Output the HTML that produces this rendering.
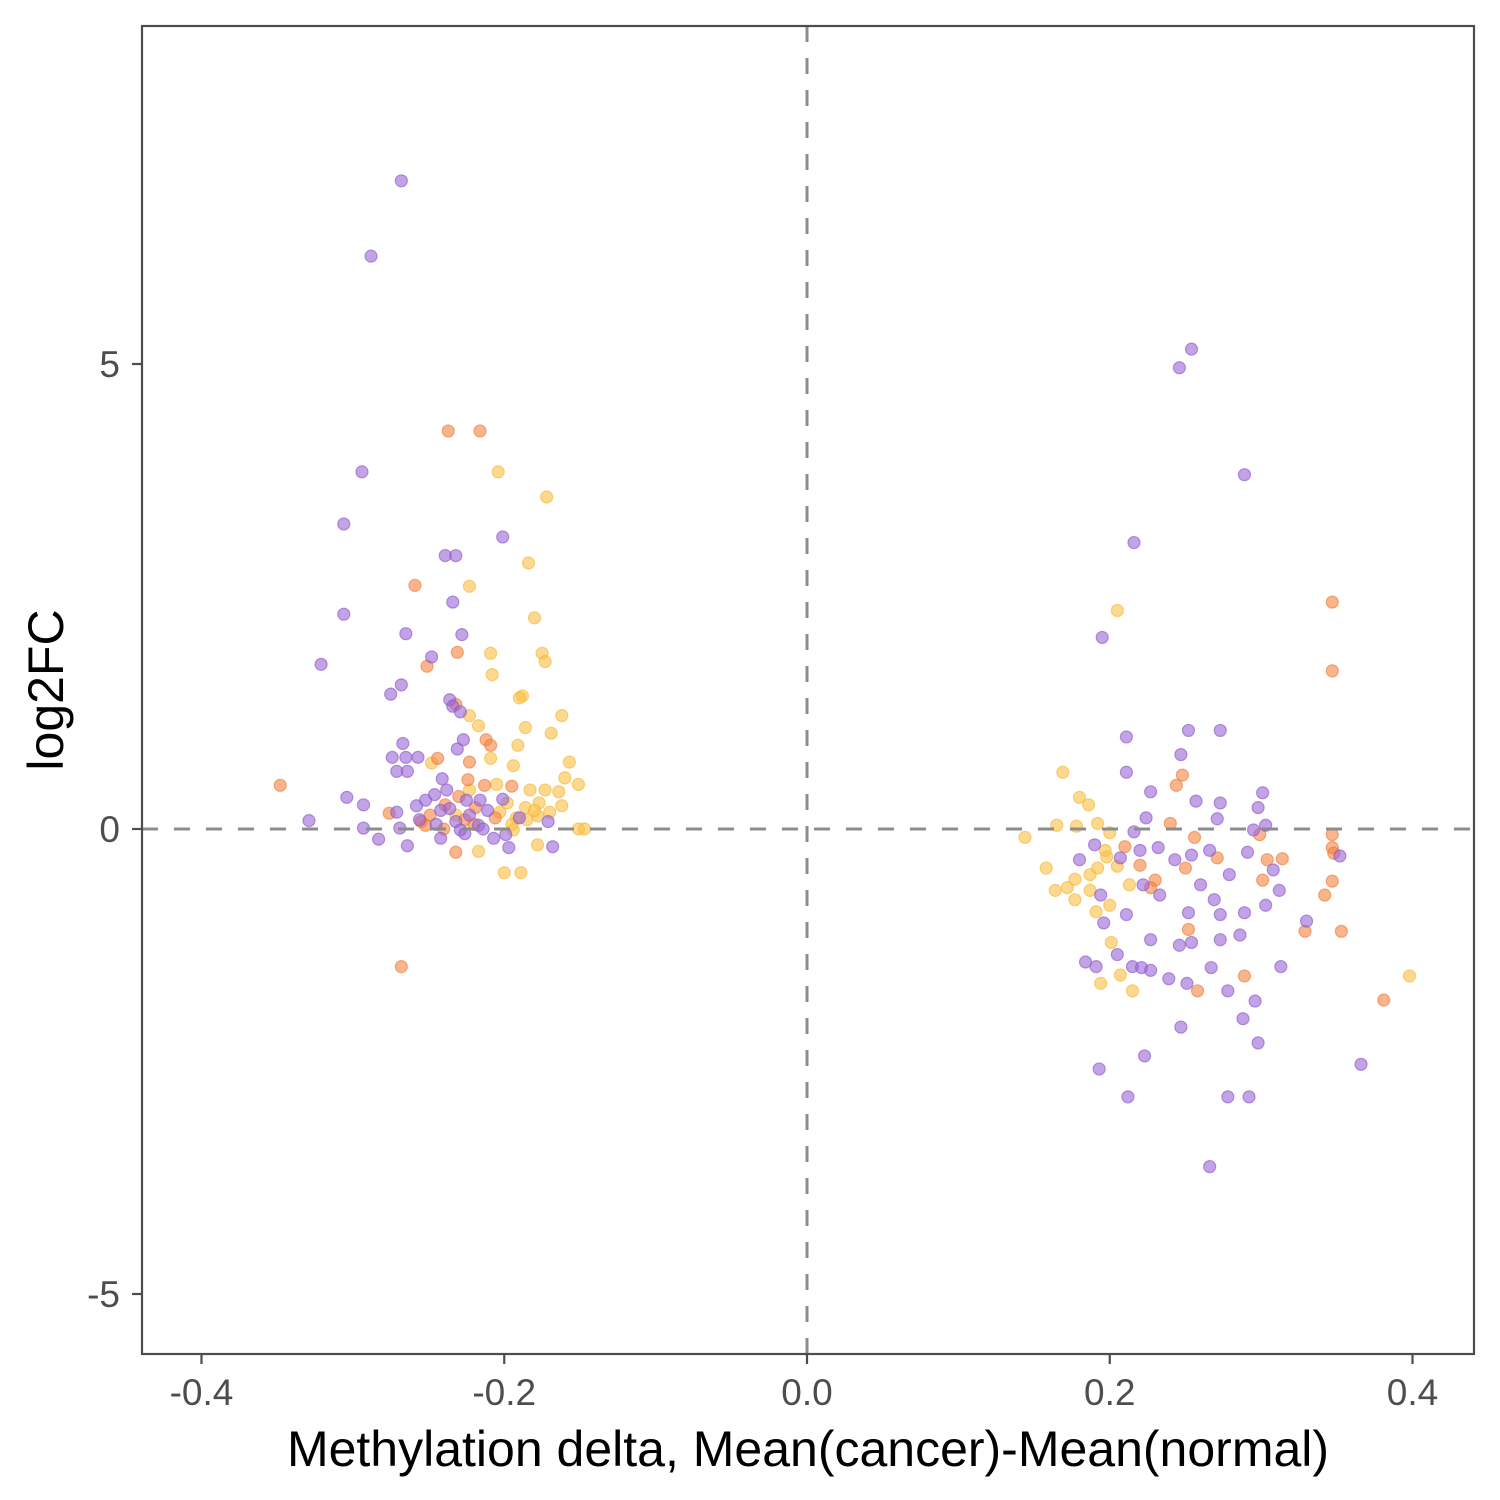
<!DOCTYPE html>
<html><head><meta charset="utf-8"><style>
html,body{margin:0;padding:0;background:#fff;}
svg{display:block;font-family:"Liberation Sans",Arial,sans-serif;}
</style></head><body>
<svg id="chart" width="1500" height="1500" viewBox="0 0 1500 1500">
<rect x="0" y="0" width="1500" height="1500" fill="#fff"/>
<g id="points"></g>
<g id="axes"></g>
</svg>
<script>
const xTicks=[-0.4,-0.2,0.0,0.2,0.4];
const xTickLabels=["-0.4","-0.2","0.0","0.2","0.4"];
const yTicks=[5,0,-5];
const yTickLabels=["5","0","-5"];
const purpleX=[-0.268,-0.288,-0.294,-0.306,-0.306,-0.321,-0.265,-0.248,-0.268,-0.275,-0.239,-0.232,-0.234,-0.228,-0.201,-0.236,-0.234,-0.229,-0.227,-0.231,-0.267,-0.274,-0.257,-0.265,-0.271,-0.264,-0.241,-0.304,-0.293,-0.329,-0.293,-0.283,-0.271,-0.269,-0.264,-0.252,-0.246,-0.242,-0.242,-0.232,-0.229,-0.223,-0.217,-0.211,-0.207,-0.201,-0.199,-0.197,-0.190,-0.171,-0.168,-0.256,-0.225,-0.216,-0.238,-0.245,-0.236,-0.226,-0.214,-0.258,
0.254,0.246,0.289,0.216,0.195,0.211,0.252,0.273,0.247,0.211,0.301,0.227,0.273,0.257,0.298,0.303,0.271,0.295,0.224,0.216,0.184,0.191,0.215,0.221,0.227,0.239,0.251,0.267,0.278,0.296,0.288,0.313,0.247,0.223,0.298,0.193,0.212,0.278,0.292,0.266,0.366,0.330,0.312,0.308,0.352,0.291,0.273,0.286,0.289,0.246,0.254,0.252,0.227,0.205,0.196,0.211,0.233,0.260,0.269,0.273,0.303,0.279,0.243,0.220,0.207,0.190,0.180,0.266,0.232,0.254,0.194,0.222];
const purpleY=[6.97,6.16,3.84,3.28,2.31,1.77,2.10,1.85,1.55,1.45,2.94,2.94,2.44,2.09,3.14,1.39,1.32,1.26,0.96,0.86,0.92,0.77,0.77,0.77,0.62,0.62,0.54,0.34,0.26,0.09,0.01,-0.11,0.18,0.01,-0.18,0.31,0.37,0.20,-0.10,0.08,-0.01,0.15,0.04,0.20,-0.10,0.32,-0.06,-0.20,0.12,0.08,-0.19,0.10,0.31,0.31,0.42,0.05,0.22,-0.05,0.00,0.25,
5.16,4.96,3.81,3.08,2.06,0.99,1.06,1.06,0.80,0.61,0.39,0.40,0.28,0.30,0.23,0.04,0.11,-0.01,0.12,-0.03,-1.43,-1.48,-1.48,-1.49,-1.52,-1.61,-1.66,-1.49,-1.74,-1.85,-2.04,-1.48,-2.13,-2.44,-2.30,-2.58,-2.88,-2.88,-2.88,-3.63,-2.53,-0.99,-0.66,-0.44,-0.29,-0.25,-1.19,-1.14,-0.90,-1.25,-1.22,-0.90,-1.19,-1.35,-1.01,-0.92,-0.71,-0.60,-0.76,-0.92,-0.82,-0.49,-0.33,-0.23,-0.31,-0.17,-0.33,-0.23,-0.20,-0.28,-0.71,-0.60];
const orangeX=[-0.348,-0.237,-0.216,-0.259,-0.231,-0.251,-0.232,-0.212,-0.209,-0.244,-0.223,-0.195,-0.276,-0.232,-0.268,-0.252,-0.239,-0.226,-0.219,-0.213,-0.224,-0.206,-0.249,-0.240,-0.230,-0.220,-0.255,
0.347,0.347,0.248,0.244,0.347,0.347,0.348,0.314,0.304,0.301,0.347,0.342,0.329,0.353,0.381,0.289,0.258,0.252,0.240,0.210,0.220,0.230,0.271,0.250,0.227,0.299,0.256];
const orangeY=[0.47,4.28,4.28,2.62,1.90,1.75,1.34,0.96,0.90,0.76,0.72,0.46,0.17,-0.25,-1.48,0.04,0.26,0.10,0.23,0.47,0.53,0.12,0.15,0.00,0.35,0.05,0.08,
2.44,1.70,0.58,0.47,-0.06,-0.20,-0.26,-0.32,-0.33,-0.55,-0.56,-0.71,-1.10,-1.10,-1.84,-1.58,-1.74,-1.08,0.06,-0.19,-0.39,-0.55,-0.31,-0.42,-0.63,-0.06,-0.09];
const yellowX=[-0.204,-0.172,-0.184,-0.223,-0.180,-0.209,-0.175,-0.173,-0.208,-0.188,-0.190,-0.162,-0.223,-0.217,-0.186,-0.169,-0.191,-0.209,-0.157,-0.194,-0.248,-0.160,-0.151,-0.183,-0.164,-0.205,-0.177,-0.162,-0.178,-0.203,-0.192,-0.151,-0.147,-0.178,-0.200,-0.189,-0.217,-0.194,-0.186,-0.223,-0.232,-0.173,-0.198,-0.185,-0.180,-0.195,-0.170,
0.205,0.169,0.180,0.186,0.144,0.165,0.178,0.192,0.200,0.158,0.164,0.172,0.177,0.187,0.192,0.198,0.177,0.191,0.200,0.201,0.194,0.215,0.398,0.207,0.197,0.213,0.205,0.187];
const yellowY=[3.84,3.57,2.86,2.61,2.27,1.89,1.89,1.80,1.66,1.43,1.41,1.22,1.22,1.11,1.09,1.03,0.90,0.76,0.72,0.68,0.71,0.55,0.48,0.42,0.40,0.48,0.28,0.25,0.14,0.18,0.12,0.00,0.00,-0.17,-0.47,-0.47,-0.24,-0.01,0.23,0.42,0.15,0.42,0.28,0.10,0.20,0.05,0.18,
2.35,0.61,0.34,0.26,-0.09,0.04,0.03,0.06,-0.04,-0.42,-0.66,-0.63,-0.54,-0.49,-0.42,-0.30,-0.76,-0.89,-0.82,-1.22,-1.66,-1.74,-1.58,-1.57,-0.23,-0.60,-0.40,-0.66];

const L=142,R=1474,T=26,B=1354;
function sx(v){return 807+v*1513.75;}
function sy(v){return 829-v*93;}
const NS="http://www.w3.org/2000/svg";
const pg=document.getElementById('points');
const ax=document.getElementById('axes');
function mk(tag,attrs,parent){const e=document.createElementNS(NS,tag);for(const k in attrs)e.setAttribute(k,attrs[k]);parent.appendChild(e);return e;}

function drawSeries(xs,ys,fill,stroke,name){
  for(let i=0;i<xs.length;i++){
    const c=mk('circle',{cx:sx(xs[i]),cy:sy(ys[i]),r:6,fill:fill,'fill-opacity':0.6,stroke:stroke,'stroke-opacity':0.6,'stroke-width':1.2},pg);
    
    
  }
}
drawSeries(yellowX,yellowY,'#fbbf45','#f6b431','point-yellow');
drawSeries(orangeX,orangeY,'#f5843f','#ef7a33','point-orange');
drawSeries(purpleX,purpleY,'#9a66d6','#8a55cc','point-purple');

const vl=mk('line',{x1:sx(0),x2:sx(0),y1:T,y2:B,stroke:'#8c8c8c','stroke-width':3,'stroke-dasharray':'16,16'},ax);


const hl=mk('line',{x1:L,x2:R,y1:sy(0),y2:sy(0),stroke:'#8c8c8c','stroke-width':3,'stroke-dasharray':'16,16'},ax);



const fr=mk('rect',{x:L,y:T,width:R-L,height:B-T,fill:'none',stroke:'#4d4d4d','stroke-width':2.2},ax);



xTicks.forEach((v,i)=>{
  const x=sx(v);
  const t=mk('line',{x1:x,x2:x,y1:B,y2:B+10,stroke:'#4d4d4d','stroke-width':2.2},ax);
  
  
  const lb=mk('text',{x:x,y:B+51,'text-anchor':'middle','font-size':37,fill:'#4d4d4d'},ax);
  lb.textContent=xTickLabels[i];
  
  
});
yTicks.forEach((v,i)=>{
  const y=sy(v);
  const t=mk('line',{x1:L-10,x2:L,y1:y,y2:y,stroke:'#4d4d4d','stroke-width':2.2},ax);
  
  
  const lb=mk('text',{x:L-22,y:y+13,'text-anchor':'end','font-size':37,fill:'#4d4d4d'},ax);
  lb.textContent=yTickLabels[i];
  
  
});
const xt=mk('text',{x:808,y:1466,'text-anchor':'middle','font-size':50,fill:'#000'},ax);
xt.textContent='Methylation delta, Mean(cancer)-Mean(normal)';


const yt=mk('text',{x:0,y:0,'text-anchor':'middle','font-size':50,fill:'#000',transform:'translate(63,690) rotate(-90)'},ax);
yt.textContent='log2FC';


</script>
</body></html>
